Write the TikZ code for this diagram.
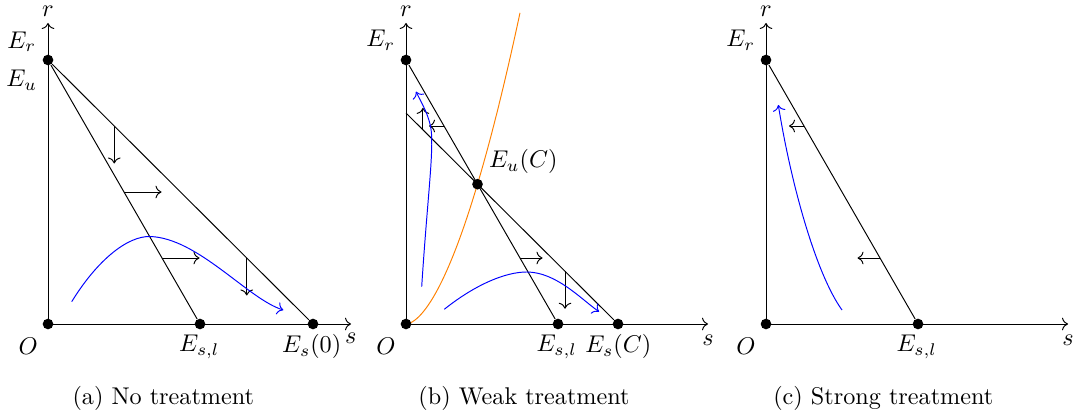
\documentclass[tikz,border=0pt]{standalone}
\usetikzlibrary{arrows.meta, calc}

\begin{document}
\begin{tikzpicture}[x=0.4132pt,y=0.4132pt,
  dot/.style={circle, fill=black, inner sep=0pt, minimum size=4.4pt},
  axis/.style={->},
  flow/.style={->},
  traj/.style={blue, ->},
  lbl/.style={inner sep=0pt}]
  \path[use as bounding box] (0,0) rectangle (1082,419);

  % (a) no treatment
  \begin{scope}[shift={(48,95)}]
    \node[dot] (O1) at (0,0) {};
    \node[dot] (Er1) at (0,264) {};
    \node[dot] (Esl1) at (152,0) {};
    \node[dot] (Es1) at (265,0) {};
    \coordinate (rtip1) at (0,301);
    \coordinate (stip1) at (303,0);
    \draw[axis] (O1.center) -- (rtip1);
    \draw[axis] (O1.center) -- (stip1);
    \draw (Er1) -- (Esl1);
    \draw (Er1) -- (Es1);
    \draw[flow] ($(Er1)!0.25!(Es1)$) -- ++(0,-37.5);
    \draw[flow] ($(Er1)!0.5!(Esl1)$) -- ++(37.5,0);
    \draw[flow] ($(Er1)!0.75!(Esl1)$) -- ++(37.5,0);
    \draw[flow] ($(Er1)!0.75!(Es1)$) -- ++(0,-37.5);
    \draw[traj] (23.7,22.3) .. controls (50,65) and (80,88) .. (102,87.5)
      .. controls (150,86) and (200,25) .. (235.3,14);
    \node[lbl] (r1) at (0,313) {$r$};
    \node[lbl] (s1) at (302.7,-14) {$s$};
    \node[lbl] (lEr1) at (-26.3,282.3) {$E_r$};
    \node[lbl] (lEu1) at (-26.3,244) {$E_u$};
    \node[lbl] (lO1) at (-19.7,-22.7) {$O$};
    \node[lbl] (lEsl1) at (151.3,-22.7) {$E_{s,l}$};
    \node[lbl] (lEs1) at (263.7,-22.7) {$E_s(0)$};
  \end{scope}

  % (b) weak treatment
  \begin{scope}[shift={(406,95)}]
    \draw[orange] plot[domain=0.2:114, samples=80] (\x, {0.0928*pow(\x,1.714)});
    \node[dot] (O2) at (0,0) {};
    \node[dot] (Er2) at (0,264) {};
    \coordinate (Ey2) at (0,211);
    \node[dot] (Esl2) at (152,0) {};
    \node[dot] (Es2) at (212,0) {};
    \node[dot] (Eu2) at (71.5,139.8) {};
    \coordinate (rtip2) at (0,301);
    \coordinate (stip2) at (302,0);
    \draw[axis] (O2.center) -- (rtip2);
    \draw[axis] (O2.center) -- (stip2);
    \draw (Er2) -- (Esl2);
    \draw (Ey2) -- (Es2);
    \draw[flow] ($(Ey2)!0.08!(Es2)$) -- ++(0,22);
    \draw[flow] ($(Er2)!0.25!(Esl2)$) -- ++(-15,0);
    \draw[flow] ($(Er2)!0.75!(Esl2)$) -- ++(22.5,0);
    \draw[flow] ($(Ey2)!0.75!(Es2)$) -- ++(0,-37.5);
    \draw[traj] (15.7,37.3) .. controls (21,120) and (27,165) .. (25.5,190)
      .. controls (24.5,207) and (15,222) .. (10,232.3);
    \draw[traj] (38.3,14.7) .. controls (70,40) and (100,52) .. (120.7,52)
      .. controls (150,52) and (175,25) .. (193,12.3);
    \node[lbl] (r2) at (0,313) {$r$};
    \node[lbl] (s2) at (302,-16) {$s$};
    \node[lbl] (lEr2) at (-25.3,284) {$E_r$};
    \node[lbl] (lEu2) at (117.3,162.3) {$E_u(C)$};
    \node[lbl] (lO2) at (-20,-22.7) {$O$};
    \node[lbl] (lEsl2) at (150.7,-22.7) {$E_{s,l}$};
    \node[lbl] (lEs2) at (212.3,-22.7) {$E_s(C)$};
  \end{scope}

  % (c) strong treatment
  \begin{scope}[shift={(766,95)}]
    \node[dot] (O3) at (0,0) {};
    \node[dot] (Er3) at (0,264) {};
    \node[dot] (Esl3) at (152,0) {};
    \coordinate (rtip3) at (0,301);
    \coordinate (stip3) at (302,0);
    \draw[axis] (O3.center) -- (rtip3);
    \draw[axis] (O3.center) -- (stip3);
    \draw (Er3) -- (Esl3);
    \draw[flow] ($(Er3)!0.25!(Esl3)$) -- ++(-15,0);
    \draw[flow] ($(Er3)!0.75!(Esl3)$) -- ++(-22.5,0);
    \draw[traj] (76,14) .. controls (50,50) and (25,140) .. (12.3,219);
    \node[lbl] (r3) at (0,313) {$r$};
    \node[lbl] (s3) at (302,-16) {$s$};
    \node[lbl] (lEr3) at (-25.3,284) {$E_r$};
    \node[lbl] (lO3) at (-20,-22.7) {$O$};
    \node[lbl] (lEsl3) at (150.7,-22.7) {$E_{s,l}$};
  \end{scope}

  \node (capa) at (163.3,21) {(a) No treatment};
  \node (capb) at (524,21) {(b) Weak treatment};
  \node (capc) at (883.3,21) {(c) Strong treatment};
\end{tikzpicture}
\end{document}
